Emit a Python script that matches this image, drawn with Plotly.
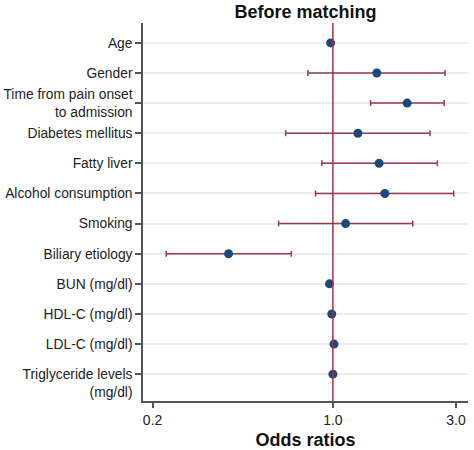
import numpy as np
import plotly.graph_objects as go

labels = ["Age", "Gender", "Time from pain onset<br>to admission", "Diabetes mellitus",
          "Fatty liver", "Alcohol consumption", "Smoking", "Biliary etiology",
          "BUN (mg/dl)", "HDL-C (mg/dl)", "LDL-C (mg/dl)",
          " <br>Triglyceride levels<br>(mg/dl)"]
odds = [0.98, 1.48, 1.94, 1.25, 1.51, 1.59, 1.12, 0.394, 0.97, 0.99, 1.01, 1.00]
ci_low = [0.97, 0.80, 1.40, 0.656, 0.906, 0.857, 0.616, 0.226, 0.96, 0.98, 1.00, 0.995]
ci_high = [0.99, 2.72, 2.70, 2.38, 2.54, 2.94, 2.04, 0.69, 0.98, 1.00, 1.02, 1.005]
x_ticks = [0.2, 1.0, 3.0]
x_ticktext = ["0.2", "1.0", "3.0"]

ypos = list(range(len(labels)))
err_plus = [h - o for h, o in zip(ci_high, odds)]
err_minus = [o - l for o, l in zip(odds, ci_low)]
has_ci = [h - l > 0.05 for h, l in zip(ci_high, ci_low)]
err_plus = [e if c else 0 for e, c in zip(err_plus, has_ci)]
err_minus = [e if c else 0 for e, c in zip(err_minus, has_ci)]

fig = go.Figure()
fig.add_trace(go.Scatter(
    x=odds, y=ypos, mode="markers",
    marker=dict(color="#1b4a78", size=9),
    error_x=dict(type="data", symmetric=False, array=err_plus, arrayminus=err_minus,
                 color="#9a3a4c", thickness=1.5, width=3),
    showlegend=False,
))
fig.add_shape(type="line", xref="x", yref="paper", x0=1, x1=1, y0=0, y1=1,
              line=dict(color="#a3304a", width=1.5), layer="above")

fig.update_layout(
    width=474, height=450,
    margin=dict(l=143, r=6, t=23, b=49),
    paper_bgcolor="white", plot_bgcolor="white",
    font=dict(family="Liberation Sans, Arial, sans-serif", size=14, color="#222"),
    title=dict(text="<b>Before matching</b>", x=0.5, xref="paper", xanchor="center",
               y=0.975, yref="container", yanchor="middle", font=dict(size=18, color="#111")),
)
fig.update_xaxes(
    type="log", range=[np.log10(0.1836), np.log10(3.34)],
    tickvals=x_ticks, ticktext=x_ticktext, automargin=False,
    showgrid=False, zeroline=False,
    showline=True, linecolor="#555", linewidth=1.5,
    ticks="outside", ticklen=5, tickcolor="#555", tickwidth=1.5,
    title=dict(text="<b>Odds ratios</b>", font=dict(size=18, color="#111"), standoff=8),
)
fig.update_yaxes(
    range=[11.89, -0.66], tickvals=ypos, ticktext=labels, automargin=False,
    tickfont=dict(size=13.8),
    showgrid=True, gridcolor="#e9edf0", gridwidth=1.5, zeroline=False,
    showline=True, linecolor="#555", linewidth=1.5,
    ticks="outside", ticklen=6, tickcolor="#555", tickwidth=1.5,
)

fig.write_html("out.html")
